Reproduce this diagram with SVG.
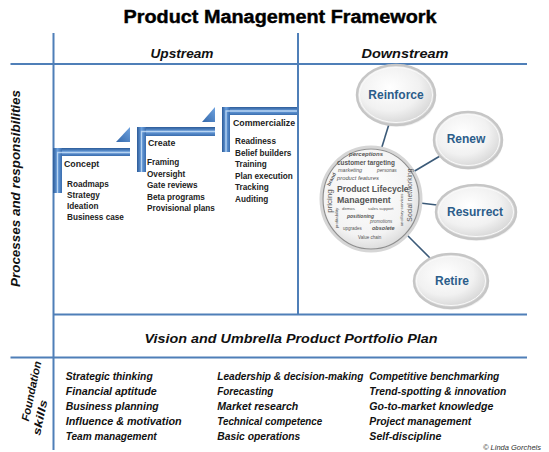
<svg xmlns="http://www.w3.org/2000/svg" width="549" height="452" viewBox="0 0 549 452">
<defs>
<style>
.grid{stroke:#4f7fb8;stroke-width:2;fill:none}
.script{font-family:"Liberation Sans",Arial,sans-serif;font-weight:bold;font-style:italic;fill:#111}
.hd{font-family:"Liberation Sans",Arial,sans-serif;font-weight:bold;font-size:8.8px;fill:#222}
.it{font-family:"Liberation Sans",Arial,sans-serif;font-weight:bold;font-size:8.2px;fill:#222}
.bub{font-family:"Liberation Sans",Arial,sans-serif;font-weight:bold;font-size:12px;fill:#2c5d8a;text-anchor:middle}
.conn{stroke:#3b5a78;stroke-width:1.6;fill:none}
.hl{stroke:#c4ddf6;stroke-width:1.3;fill:none;opacity:.85}
.wc{font-family:"Liberation Sans",Arial,sans-serif;fill:#555}
.fs{font-size:10.5px}
</style>
<linearGradient id="barH" x1="0" y1="0" x2="0" y2="1">
<stop offset="0" stop-color="#2c5b98"/><stop offset=".5" stop-color="#6a9fdd"/><stop offset="1" stop-color="#3a6dae"/>
</linearGradient>
<linearGradient id="barV" x1="0" y1="0" x2="1" y2="0">
<stop offset="0" stop-color="#2c5b98"/><stop offset=".5" stop-color="#6a9fdd"/><stop offset="1" stop-color="#3a6dae"/>
</linearGradient>
<linearGradient id="tri" x1="0" y1="1" x2="1" y2="0">
<stop offset="0" stop-color="#3468aa"/><stop offset="1" stop-color="#6fa3e0"/>
</linearGradient>
<radialGradient id="bubG" cx=".42" cy=".38" r=".7">
<stop offset="0" stop-color="#ffffff"/><stop offset=".55" stop-color="#f1f1f1"/><stop offset="1" stop-color="#cdcdcd"/>
</radialGradient>
<radialGradient id="plmG" cx=".45" cy=".4" r=".65">
<stop offset="0" stop-color="#ffffff"/><stop offset=".7" stop-color="#f3f3f3"/><stop offset="1" stop-color="#d2d2d2"/>
</radialGradient>
</defs>
<rect width="549" height="452" fill="#ffffff"/>

<text x="280" y="23" text-anchor="middle" font-family="'Liberation Sans',Arial,sans-serif" font-weight="bold" font-size="18" textLength="313" lengthAdjust="spacingAndGlyphs" stroke="#000" stroke-width="0.4" fill="#000">Product Management Framework</text>

<g id="grid">
<line class="grid" x1="53.5" y1="33" x2="53.5" y2="450"/>
<line class="grid" x1="298" y1="33" x2="298" y2="314.5"/>
<line class="grid" x1="10.5" y1="64" x2="527" y2="64"/>
<line class="grid" x1="53.5" y1="314.5" x2="527" y2="314.5"/>
<line class="grid" x1="10.5" y1="357.5" x2="527" y2="357.5"/>
</g>

<text class="script" x="182" y="57.5" font-size="12" text-anchor="middle" textLength="63" lengthAdjust="spacingAndGlyphs">Upstream</text>
<text class="script" x="405" y="57.5" font-size="12" text-anchor="middle" textLength="87" lengthAdjust="spacingAndGlyphs">Downstream</text>
<text class="script" transform="translate(19.5,188.5) rotate(-90)" x="0" y="0" font-size="12" text-anchor="middle" textLength="197" lengthAdjust="spacingAndGlyphs">Processes and responsibilities</text>
<text class="script" x="291" y="342.5" font-size="13" text-anchor="middle" textLength="293" lengthAdjust="spacingAndGlyphs">Vision and Umbrella Product Portfolio Plan</text>
<g transform="translate(35,392) rotate(-78)">
<text class="script" x="0" y="0" font-size="11" text-anchor="middle" textLength="61" lengthAdjust="spacingAndGlyphs">Foundation</text>
<text class="script" x="-24" y="14" font-size="11" text-anchor="middle" textLength="36" lengthAdjust="spacingAndGlyphs">skills</text>
</g>

<g id="concept">
<path d="M116,142 L130,142 L130,127 Z" fill="url(#tri)"/>
<rect x="53" y="148" width="77" height="8" fill="url(#barH)"/>
<rect x="53" y="148" width="9" height="45" fill="url(#barV)"/>
<path class="hl" d="M57.5,193 V152.5 H130"/>
<text class="hd" x="64" y="167">Concept</text>
<text class="it" x="67" y="187">Roadmaps</text>
<text class="it" x="67" y="198">Strategy</text>
<text class="it" x="67" y="209">Ideation</text>
<text class="it" x="67" y="220">Business case</text>
</g>

<g id="create">
<path d="M202,122 L215,122 L215,107 Z" fill="url(#tri)"/>
<rect x="137" y="127" width="78" height="9" fill="url(#barH)"/>
<rect x="137" y="127" width="9" height="45" fill="url(#barV)"/>
<path class="hl" d="M141.5,172 V131.5 H215"/>
<text class="hd" x="148" y="146">Create</text>
<text class="it" x="147" y="165">Framing</text>
<text class="it" x="147" y="176.5">Oversight</text>
<text class="it" x="147" y="188">Gate reviews</text>
<text class="it" x="147" y="199.5">Beta programs</text>
<text class="it" x="147" y="211">Provisional plans</text>
</g>

<g id="commercialize">
<rect x="222" y="107" width="75" height="8" fill="url(#barH)"/>
<rect x="222" y="107" width="8" height="45" fill="url(#barV)"/>
<path class="hl" d="M226,152 V111 H297"/>
<text class="hd" x="233" y="126">Commercialize</text>
<text class="it" x="235" y="144">Readiness</text>
<text class="it" x="235" y="155.5">Belief builders</text>
<text class="it" x="235" y="167">Training</text>
<text class="it" x="235" y="178.5">Plan execution</text>
<text class="it" x="235" y="190">Tracking</text>
<text class="it" x="235" y="201.5">Auditing</text>
</g>

<g id="connectors">
<line class="conn" x1="389" y1="124" x2="381" y2="150"/>
<line class="conn" x1="440" y1="156" x2="413" y2="172"/>
<line class="conn" x1="437" y1="205" x2="420" y2="203"/>
<line class="conn" x1="430" y1="258" x2="407" y2="235"/>
</g>

<g id="reinforce">
<ellipse cx="397" cy="97" rx="39" ry="30" fill="#000" opacity=".06"/>
<ellipse cx="396" cy="95" rx="39" ry="30" fill="url(#bubG)" stroke="#c6c6c6" stroke-width="2.5"/>
<ellipse cx="396" cy="95" rx="36.5" ry="27.5" fill="none" stroke="#fafafa" stroke-width="1"/>
<text class="bub" x="396" y="99.3">Reinforce</text>
</g>
<g id="renew">
<ellipse cx="469" cy="142" rx="34" ry="28" fill="#000" opacity=".06"/>
<ellipse cx="468" cy="140" rx="34" ry="28" fill="url(#bubG)" stroke="#c6c6c6" stroke-width="2.5"/>
<ellipse cx="468" cy="140" rx="31.5" ry="25.5" fill="none" stroke="#fafafa" stroke-width="1"/>
<text class="bub" x="466" y="143">Renew</text>
</g>
<g id="resurrect">
<ellipse cx="477" cy="214" rx="40" ry="27" fill="#000" opacity=".06"/>
<ellipse cx="476" cy="212" rx="40" ry="27" fill="url(#bubG)" stroke="#c6c6c6" stroke-width="2.5"/>
<ellipse cx="476" cy="212" rx="37.5" ry="24.5" fill="none" stroke="#fafafa" stroke-width="1"/>
<text class="bub" x="475" y="216">Resurrect</text>
</g>
<g id="retire">
<ellipse cx="452" cy="283" rx="37" ry="27" fill="#000" opacity=".06"/>
<ellipse cx="451" cy="281" rx="37" ry="27" fill="url(#bubG)" stroke="#c6c6c6" stroke-width="2.5"/>
<ellipse cx="451" cy="281" rx="34.5" ry="24.5" fill="none" stroke="#fafafa" stroke-width="1"/>
<text class="bub" x="452" y="284.5">Retire</text>
</g>

<g id="plm">
<ellipse cx="371" cy="199" rx="50" ry="52" fill="url(#plmG)" stroke="#d6d6d6" stroke-width="3"/>
<ellipse cx="371" cy="199" rx="48" ry="50" fill="none" stroke="#8e8e8e" stroke-width="1.2"/>
<text class="wc" x="366" y="155.5" font-size="6" font-style="italic" font-weight="bold" fill="#3a6fb0" text-anchor="middle">perceptions</text>
<text class="wc" x="337" y="164.5" font-size="6.4" font-weight="bold" fill="#333">customer targeting</text>
<text class="wc" x="338" y="172" font-size="5.5" font-style="italic">marketing</text>
<text class="wc" x="377" y="172" font-size="4.8" font-style="italic">personas</text>
<text class="wc" x="337" y="180" font-size="5.8" font-style="italic">product features</text>
<text class="wc" x="337" y="192" font-size="8.6" font-weight="bold" fill="#111">Product Lifecycle</text>
<text class="wc" x="337" y="203" font-size="8.8" font-weight="bold" fill="#111">Management</text>
<text class="wc" x="342" y="210" font-size="4.3">demos</text>
<text class="wc" x="368" y="210" font-size="4.3">sales support</text>
<text class="wc" x="347" y="217.5" font-size="5" font-style="italic" font-weight="bold">positioning</text>
<text class="wc" x="370" y="223" font-size="4.5" font-style="italic">promotions</text>
<text class="wc" x="343" y="230" font-size="4.5">upgrades</text>
<text class="wc" x="372" y="230" font-size="5.5" font-style="italic" font-weight="bold">obsolete</text>
<text class="wc" x="358" y="239" font-size="4.5" fill="#3a6fb0">Value chain</text>
<text class="wc" transform="translate(332,201) rotate(-90)" font-size="8" text-anchor="middle" fill="#555">pricing</text>
<text class="wc" transform="translate(338,218) rotate(-90)" font-size="4.3" text-anchor="middle">profitability</text>
<text class="wc" transform="translate(333,180) rotate(-63)" font-size="5" font-weight="bold" text-anchor="middle" fill="#3a6fb0">brand</text>
<text class="wc" transform="translate(412,195) rotate(-90)" font-size="6.8" text-anchor="middle" fill="#666">Social networking</text>
<text class="wc" transform="translate(403,210) rotate(-90)" font-size="4.3" text-anchor="middle">ancillary services</text>
</g>

<g id="skills">
<text class="script fs" x="65.7" y="380" textLength="87" lengthAdjust="spacingAndGlyphs">Strategic thinking</text>
<text class="script fs" x="65.7" y="395" textLength="91" lengthAdjust="spacingAndGlyphs">Financial aptitude</text>
<text class="script fs" x="65.7" y="410" textLength="93" lengthAdjust="spacingAndGlyphs">Business planning</text>
<text class="script fs" x="65.7" y="425" textLength="116" lengthAdjust="spacingAndGlyphs">Influence &amp; motivation</text>
<text class="script fs" x="65.7" y="440" textLength="91" lengthAdjust="spacingAndGlyphs">Team management</text>
<text class="script fs" x="217.3" y="380" textLength="146" lengthAdjust="spacingAndGlyphs">Leadership &amp; decision-making</text>
<text class="script fs" x="217.3" y="395" textLength="56" lengthAdjust="spacingAndGlyphs">Forecasting</text>
<text class="script fs" x="217.3" y="410" textLength="81" lengthAdjust="spacingAndGlyphs">Market research</text>
<text class="script fs" x="217.3" y="425" textLength="105" lengthAdjust="spacingAndGlyphs">Technical competence</text>
<text class="script fs" x="217.3" y="440" textLength="83" lengthAdjust="spacingAndGlyphs">Basic operations</text>
<text class="script fs" x="369.3" y="380" textLength="130" lengthAdjust="spacingAndGlyphs">Competitive benchmarking</text>
<text class="script fs" x="369.3" y="395" textLength="137" lengthAdjust="spacingAndGlyphs">Trend-spotting &amp; innovation</text>
<text class="script fs" x="369.3" y="410" textLength="124" lengthAdjust="spacingAndGlyphs">Go-to-market knowledge</text>
<text class="script fs" x="369.3" y="425" textLength="102" lengthAdjust="spacingAndGlyphs">Project management</text>
<text class="script fs" x="369.3" y="440" textLength="72" lengthAdjust="spacingAndGlyphs">Self-discipline</text>
</g>
<text x="541" y="450" text-anchor="end" font-family="'Liberation Sans',Arial,sans-serif" font-size="7.5" font-style="italic" fill="#333">© Linda Gorchels</text>
</svg>
